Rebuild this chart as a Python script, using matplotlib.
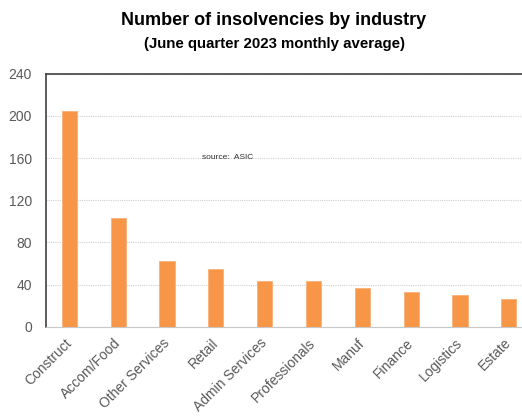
import matplotlib
matplotlib.use("Agg")
import matplotlib.pyplot as plt

plt.rcParams['font.family'] = ['Liberation Sans', 'DejaVu Sans']

# data
industries = ["Construct", "Accom/Food", "Other Services", "Retail", "Admin Services",
              "Professionals", "Manuf", "Finance", "Logistics", "Estate"]
insolvencies = [205, 103, 62, 55, 43, 43, 37, 33, 30, 26]
y_ticks = [0, 40, 80, 120, 160, 200, 240]

fig = plt.figure(figsize=(5.22, 4.19), dpi=100)
ax = fig.add_axes([0.088, 0.22, 0.912, 0.604])

x = range(len(industries))
ax.bar(x, insolvencies, width=0.31, color="#F79646", edgecolor="#FAB07A", linewidth=0.6, zorder=3)

ax.set_xlim(-0.48, 9.27)
ax.set_ylim(0, 240)
ax.set_yticks(y_ticks)
ax.yaxis.grid(True, color="#D0D0D0", linestyle=(0, (1, 1)), linewidth=0.8, zorder=0)
ax.set_axisbelow(True)

ax.set_xticks(list(x))
ax.set_xticklabels(industries, rotation=45, ha="right", va="center", rotation_mode="anchor")
ax.tick_params(axis="both", length=0, labelcolor="#595959", labelsize=10)
ax.tick_params(axis="y", pad=10)
ax.tick_params(axis="x", pad=10)

ax.spines["left"].set_color("#404040")
ax.spines["left"].set_linewidth(1.2)
ax.spines["top"].set_color("#404040")
ax.spines["top"].set_linewidth(1.2)
ax.spines["right"].set_visible(False)
ax.spines["bottom"].set_color("#C8C8C8")
ax.spines["bottom"].set_linestyle((0, (1, 1)))
ax.spines["bottom"].set_linewidth(0.8)

ax.text(3.25, 161, "source:  ASIC", fontsize=6, color="#303030", ha="center", va="center")

fig.text(0.525, 0.951, "Number of insolvencies by industry", ha="center", va="center",
         fontsize=13, fontweight="bold")
fig.text(0.525, 0.895, "(June quarter 2023 monthly average)", ha="center", va="center",
         fontsize=10.8, fontweight="bold")

fig.savefig("out.png", dpi=100)
